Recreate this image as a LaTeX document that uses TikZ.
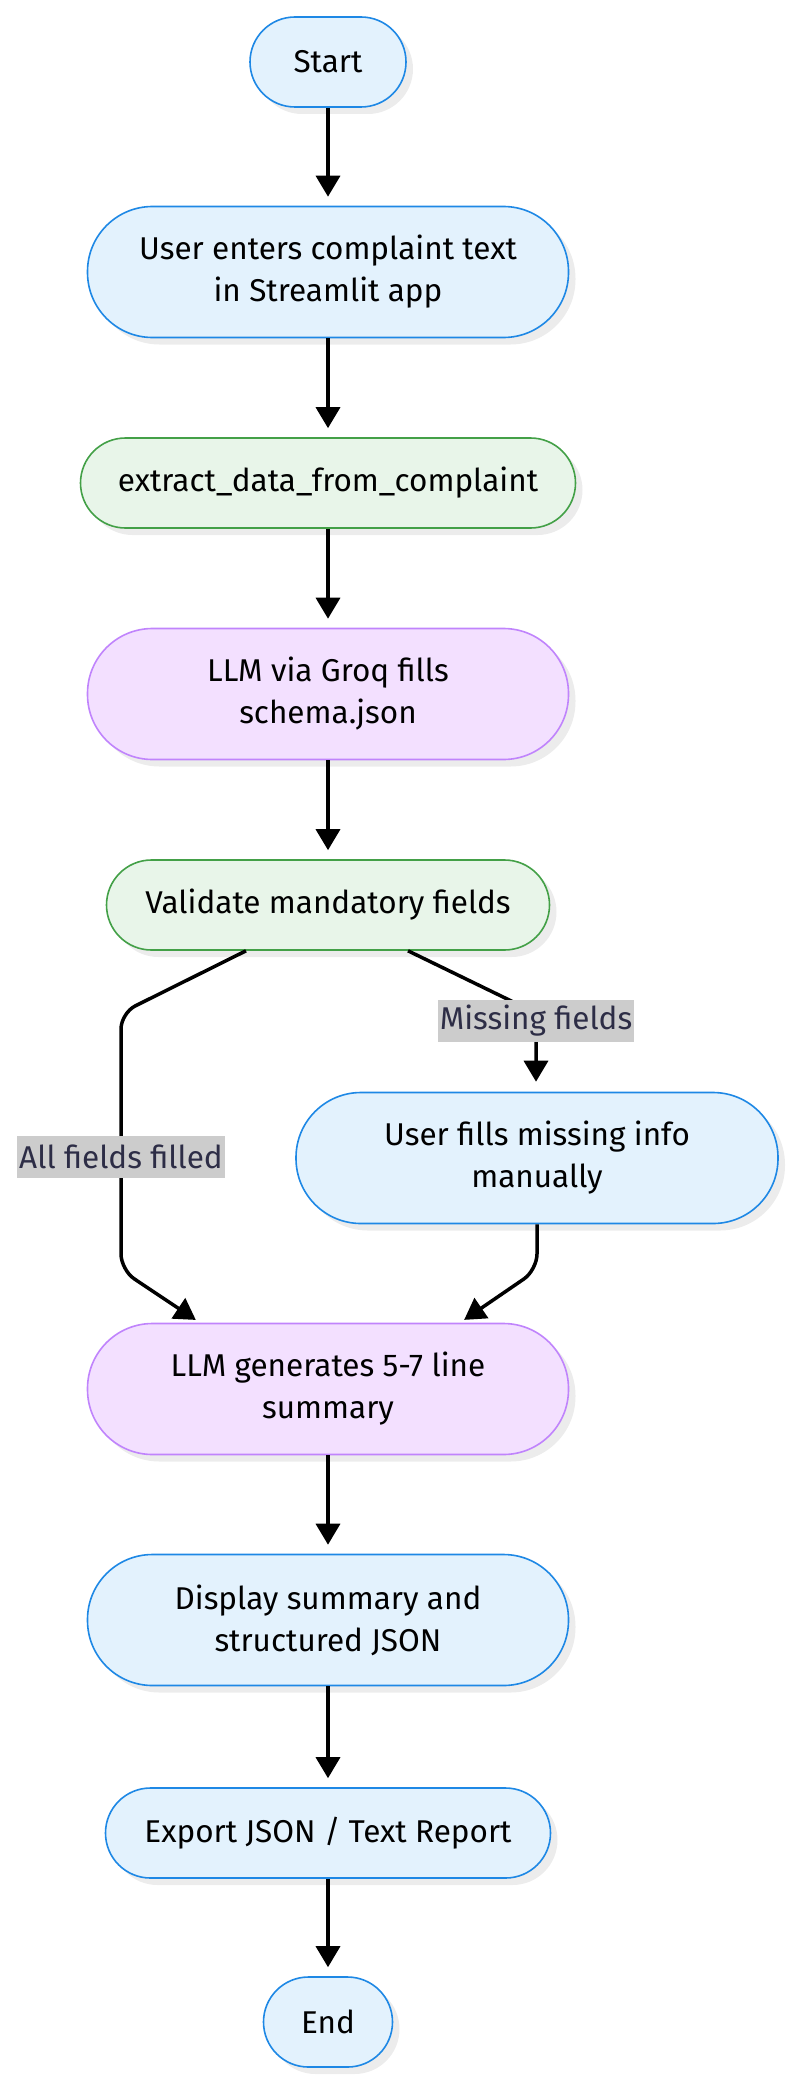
\documentclass[tikz,border=0pt]{standalone}
\usepackage{fontspec}
\setmainfont{Fira Sans}
\usetikzlibrary{arrows.meta,shadows,positioning}
\definecolor{bfill}{RGB}{227,242,253}
\definecolor{bdraw}{RGB}{30,136,229}
\definecolor{gfill}{RGB}{232,245,233}
\definecolor{gdraw}{RGB}{67,160,71}
\definecolor{pfill}{RGB}{243,224,255}
\definecolor{pdraw}{RGB}{192,132,252}
\definecolor{lblbg}{RGB}{204,204,204}
\definecolor{lbltext}{RGB}{45,45,70}
\definecolor{shadowc}{RGB}{236,236,236}
\tikzset{
  x=1pt, y=-1pt,
  box/.style={draw, line width=1.6pt, align=center, inner sep=0pt,
    font=\fontsize{31.5}{42}\selectfont, text=black,
    drop shadow={shadow xshift=7pt, shadow yshift=-7pt, fill=shadowc, opacity=1}},
  one/.style={minimum height=90pt, rounded corners=45pt},
  two/.style={minimum height=131pt, rounded corners=65pt},
  blue/.style={box, fill=bfill, draw=bdraw},
  green/.style={box, fill=gfill, draw=gdraw},
  purple/.style={box, fill=pfill, draw=pdraw},
  edge/.style={line width=3.5pt, -{Triangle[width=24pt,length=21pt]}, rounded corners=16pt},
  lbl/.style={fill=lblbg, text=lbltext, inner xsep=2pt, inner ysep=0pt, minimum height=42pt,
    font=\fontsize{31.5}{36}\selectfont}
}
\begin{document}
\begin{tikzpicture}
\useasboundingbox (0,0) rectangle (791,2084);
\node[blue, one, minimum width=156pt] (start) at (328,62) {Start};
\node[blue, two, minimum width=481pt] (enter) at (328,272) {User enters complaint text\\in Streamlit app};
\node[green, one, minimum width=495pt] (extract) at (328,483) {extract\_data\_from\_complaint};
\node[purple, two, minimum width=481pt] (groq) at (328,694) {LLM via Groq fills\\schema.json};
\node[green, one, minimum width=443pt] (validate) at (328,905) {Validate mandatory fields};
\node[blue, two, minimum width=482pt] (fill) at (537,1158) {User fills missing info\\manually};
\node[purple, two, minimum width=481pt] (gen) at (328,1389) {LLM generates 5-7 line\\summary};
\node[blue, two, minimum width=481pt] (display) at (328,1620) {Display summary and\\structured JSON};
\node[blue, one, minimum width=445pt] (export) at (328,1833) {Export JSON / Text Report};
\node[blue, one, minimum width=129pt] (end) at (328,2022) {End};

\draw[edge, shorten >=9pt] (start) -- (enter);
\draw[edge, shorten >=9pt] (enter) -- (extract);
\draw[edge, shorten >=9pt] (extract) -- (groq);
\draw[edge, shorten >=9pt] (groq) -- (validate);
\draw[edge, shorten >=9pt] (gen) -- (display);
\draw[edge, shorten >=9pt] (display) -- (export);
\draw[edge, shorten >=9pt] (export) -- (end);

\coordinate (l1) at (121,1013);
\coordinate (l2) at (121,1270);
\coordinate (r1) at (536,1013);
\coordinate (r2) at (537,1270);
\draw[edge, shorten >=5pt] ([xshift=-82pt]validate.south) -- (l1) -- (l2) -- ([xshift=-128pt]gen.north);
\draw[edge, shorten >=10pt] ([xshift=80pt]validate.south) -- (r1) -- (fill.north -| r1);
\draw[edge, shorten >=5pt] (fill.south -| r2) -- (r2) -- ([xshift=132pt]gen.north);
\node[lbl] (lmiss) at (536,1021) {Missing fields};
\node[lbl] (lall) at (121,1157) {All fields filled};
\end{tikzpicture}
\end{document}
